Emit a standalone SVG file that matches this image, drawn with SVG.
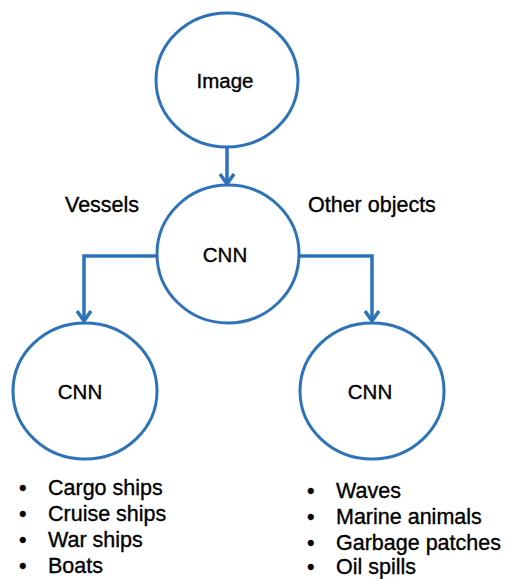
<svg xmlns="http://www.w3.org/2000/svg" width="506" height="579" viewBox="0 0 506 579">
<defs>
<style>
.node{fill:#fff;stroke:#2E72B8;stroke-width:3}
.conn{fill:none;stroke:#2E72B8;stroke-width:3.5}
.head{fill:none;stroke:#2E72B8;stroke-width:3.5;stroke-linejoin:miter}
.t{font-family:"Liberation Sans",Arial,sans-serif;font-size:21.5px;fill:#000;stroke:#000;stroke-width:0.35}
.n{font-size:20.5px}
.c{text-anchor:middle}
</style>
</defs>
<rect width="506" height="579" fill="#fff"/>
<g id="connectors">
<path class="conn" d="M227,148 V183"/>
<path class="head" d="M220,174 L227,184 L234,174"/>
<path class="conn" d="M157,256 H84 V321"/>
<path class="head" d="M77,311 L84,321 L91,311"/>
<path class="conn" d="M299,256 H372 V321"/>
<path class="head" d="M365,311 L372,321 L379,311"/>
</g>
<g id="image">
<ellipse class="node" cx="227" cy="80" rx="71" ry="67"/>
<text class="t n c" x="225" y="88">Image</text>
</g>
<g id="cnn-main">
<ellipse class="node" cx="228" cy="254" rx="71" ry="69"/>
<text class="t n c" x="225" y="262">CNN</text>
</g>
<g id="cnn-vessels">
<ellipse class="node" cx="85" cy="391" rx="72" ry="68"/>
<text class="t n c" x="80" y="399">CNN</text>
</g>
<g id="cnn-other">
<ellipse class="node" cx="372" cy="391" rx="72" ry="68"/>
<text class="t n c" x="370" y="399">CNN</text>
</g>
<g id="labels">
<text class="t" x="65" y="212">Vessels</text>
<text class="t" x="308" y="212">Other objects</text>
</g>
<g id="list-vessels" class="t">
<text x="19" y="495">•</text><text x="48" y="495">Cargo ships</text>
<text x="19" y="521">•</text><text x="48" y="521">Cruise ships</text>
<text x="19" y="547">•</text><text x="48" y="547">War ships</text>
<text x="19" y="573">•</text><text x="48" y="573">Boats</text>
</g>
<g id="list-other" class="t">
<text x="307" y="498">•</text><text x="336" y="498">Waves</text>
<text x="307" y="524">•</text><text x="336" y="524">Marine animals</text>
<text x="307" y="550">•</text><text x="336" y="550">Garbage patches</text>
<text x="307" y="574">•</text><text x="336" y="574">Oil spills</text>
</g>
</svg>
